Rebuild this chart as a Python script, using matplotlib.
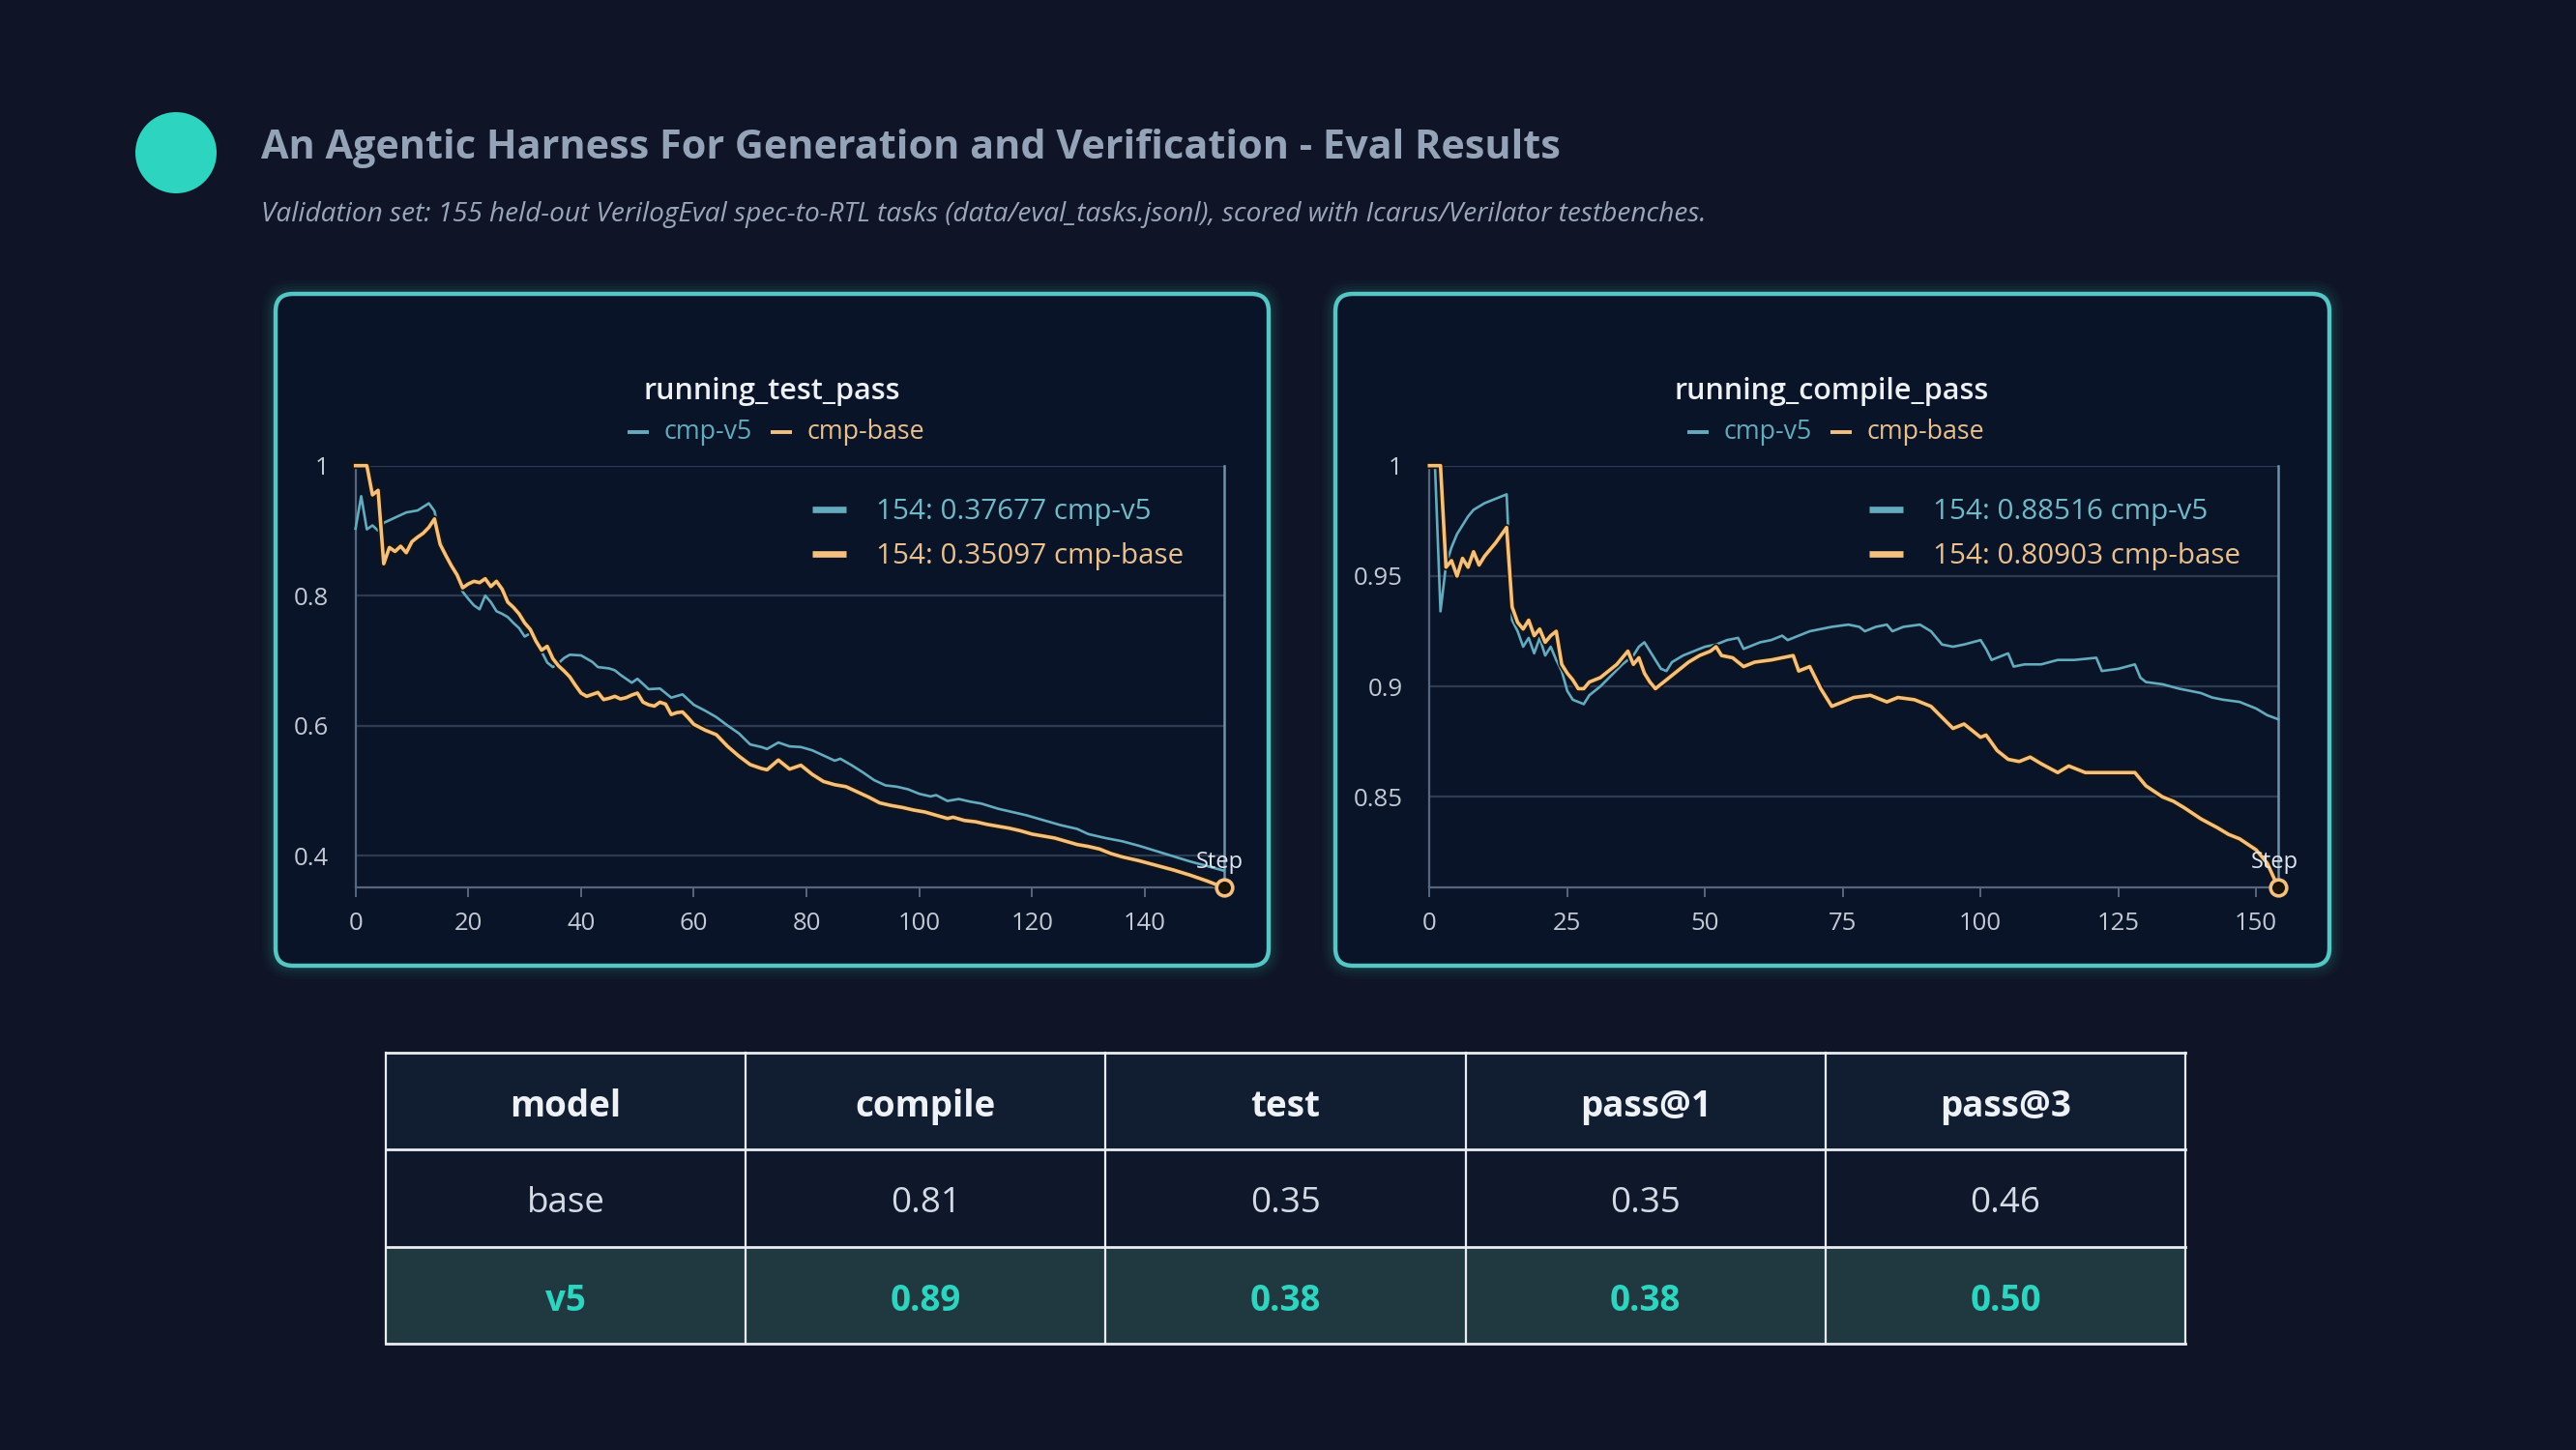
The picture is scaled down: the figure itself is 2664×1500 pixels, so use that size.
import matplotlib
matplotlib.use("Agg")
import matplotlib.pyplot as plt
from matplotlib.patches import FancyBboxPatch, Rectangle, Circle
import matplotlib.patheffects as pe

plt.rcParams['font.family'] = ['Open Sans', 'DejaVu Sans']

# ---------------- data ----------------
title = "An Agentic Harness For Generation and Verification - Eval Results"
subtitle = ("Validation set: 155 held-out VerilogEval spec-to-RTL tasks "
            "(data/eval_tasks.jsonl), scored with Icarus/Verilator testbenches.")

series_names = ["cmp-v5", "cmp-base"]

test_v5_steps = [0, 1, 2, 3, 4, 5, 7, 9, 11, 13, 14, 15, 16, 17, 18, 19, 20, 21, 22, 23,
                 24, 25, 26, 27, 28, 29, 30, 31, 32, 33, 34, 35, 36, 37, 38, 40, 42, 43, 45, 46,
                 47, 49, 50, 52, 54, 56, 58, 60, 62, 64, 66, 68, 70, 72, 73, 75, 77, 79, 81, 83,
                 85, 86, 88, 90, 92, 94, 96, 98, 100, 102, 103, 105, 107, 109, 111, 114, 117, 119, 121, 123,
                 125, 128, 130, 133, 136, 139, 142, 145, 148, 151, 154]
test_v5_vals = [0.903, 0.953, 0.902, 0.908, 0.900, 0.912, 0.920, 0.928, 0.931, 0.942, 0.930, 0.890, 0.862, 0.845, 0.828, 0.806, 0.795, 0.785, 0.779, 0.800,
                0.790, 0.776, 0.772, 0.767, 0.758, 0.750, 0.737, 0.742, 0.729, 0.714, 0.697, 0.690, 0.696, 0.704, 0.709, 0.708, 0.698, 0.690, 0.688, 0.685,
                0.678, 0.666, 0.672, 0.656, 0.657, 0.643, 0.648, 0.632, 0.623, 0.613, 0.600, 0.588, 0.571, 0.567, 0.564, 0.574, 0.568, 0.567, 0.562, 0.554,
                0.546, 0.549, 0.539, 0.528, 0.516, 0.508, 0.506, 0.502, 0.495, 0.491, 0.493, 0.484, 0.487, 0.483, 0.480, 0.472, 0.466, 0.462, 0.457, 0.452,
                0.447, 0.441, 0.433, 0.427, 0.422, 0.415, 0.407, 0.399, 0.391, 0.384, 0.37677]

test_base_steps = [0, 1, 2, 3, 4, 5, 6, 7, 8, 9, 10, 11, 12, 13, 14, 15, 16, 17, 18, 19,
                   20, 21, 22, 23, 24, 25, 26, 27, 28, 29, 30, 31, 32, 33, 34, 35, 36, 37, 38, 39,
                   40, 41, 42, 43, 44, 45, 46, 47, 48, 49, 50, 51, 52, 53, 54, 55, 56, 57, 58, 59,
                   60, 62, 64, 66, 68, 70, 72, 73, 75, 77, 79, 81, 83, 85, 87, 89, 91, 93, 95, 97,
                   99, 101, 103, 105, 106, 108, 110, 112, 114, 116, 118, 120, 122, 124, 126, 128, 130, 132, 134, 136,
                   139, 142, 145, 148, 151, 154]
test_base_vals = [1.0, 1.0, 1.0, 0.955, 0.962, 0.849, 0.874, 0.868, 0.876, 0.866, 0.883, 0.890, 0.896, 0.905, 0.918, 0.879, 0.862, 0.846, 0.832, 0.812,
                  0.818, 0.822, 0.820, 0.826, 0.814, 0.822, 0.810, 0.790, 0.782, 0.772, 0.758, 0.748, 0.730, 0.716, 0.722, 0.703, 0.692, 0.684, 0.675, 0.662,
                  0.650, 0.645, 0.648, 0.651, 0.640, 0.642, 0.645, 0.641, 0.643, 0.647, 0.650, 0.636, 0.632, 0.630, 0.636, 0.633, 0.617, 0.620, 0.621, 0.612,
                  0.602, 0.593, 0.586, 0.568, 0.553, 0.540, 0.534, 0.532, 0.547, 0.533, 0.539, 0.525, 0.514, 0.509, 0.506, 0.498, 0.490, 0.481, 0.477, 0.474,
                  0.470, 0.467, 0.462, 0.457, 0.459, 0.454, 0.452, 0.448, 0.445, 0.442, 0.438, 0.433, 0.430, 0.427, 0.422, 0.417, 0.414, 0.410, 0.403, 0.398,
                  0.392, 0.385, 0.378, 0.370, 0.361, 0.35097]

comp_v5_steps = [0, 1, 2, 3, 4, 5, 6, 7, 8, 10, 12, 14, 15, 16, 17, 18, 19, 20, 21, 22,
                 23, 24, 25, 26, 27, 28, 29, 31, 33, 35, 37, 38, 39, 40, 41, 42, 43, 44, 46, 48,
                 50, 52, 54, 56, 57, 58, 60, 62, 64, 65, 67, 69, 71, 73, 76, 78, 79, 81, 83, 84,
                 86, 89, 91, 93, 95, 97, 100, 101, 102, 103, 105, 106, 108, 111, 114, 117, 121, 122, 125, 128,
                 129, 130, 133, 136, 138, 140, 142, 144, 147, 150, 152, 154]
comp_v5_vals = [1.0, 1.0, 0.934, 0.955, 0.963, 0.969, 0.973, 0.977, 0.980, 0.983, 0.985, 0.987, 0.930, 0.925, 0.918, 0.922, 0.915, 0.922, 0.914, 0.918,
                0.912, 0.907, 0.898, 0.894, 0.893, 0.892, 0.896, 0.900, 0.905, 0.910, 0.914, 0.918, 0.920, 0.916, 0.912, 0.908, 0.907, 0.911, 0.914, 0.916,
                0.918, 0.919, 0.921, 0.922, 0.917, 0.918, 0.920, 0.921, 0.923, 0.921, 0.923, 0.925, 0.926, 0.927, 0.928, 0.927, 0.925, 0.927, 0.928, 0.925,
                0.927, 0.928, 0.925, 0.919, 0.918, 0.919, 0.921, 0.917, 0.912, 0.913, 0.915, 0.909, 0.910, 0.910, 0.912, 0.912, 0.913, 0.907, 0.908, 0.910,
                0.904, 0.902, 0.901, 0.899, 0.898, 0.897, 0.895, 0.894, 0.893, 0.890, 0.887, 0.88516]

comp_base_steps = [0, 1, 2, 3, 4, 5, 6, 7, 8, 9, 10, 12, 14, 15, 16, 17, 18, 19, 20, 21,
                   22, 23, 24, 25, 26, 27, 28, 29, 31, 33, 34, 36, 37, 38, 39, 40, 41, 43, 45, 47,
                   49, 51, 52, 53, 55, 57, 59, 62, 64, 66, 67, 69, 71, 73, 75, 77, 80, 83, 85, 88,
                   91, 93, 95, 97, 100, 101, 103, 105, 107, 109, 111, 114, 116, 119, 122, 125, 128, 130, 133, 135,
                   137, 140, 143, 145, 147, 150, 152, 154]
comp_base_vals = [1.0, 1.0, 1.0, 0.954, 0.957, 0.950, 0.958, 0.954, 0.961, 0.955, 0.959, 0.965, 0.972, 0.936, 0.929, 0.926, 0.930, 0.923, 0.926, 0.920,
                  0.923, 0.925, 0.910, 0.906, 0.903, 0.899, 0.899, 0.902, 0.904, 0.908, 0.910, 0.916, 0.910, 0.913, 0.906, 0.902, 0.899, 0.903, 0.907, 0.911,
                  0.914, 0.916, 0.918, 0.914, 0.913, 0.909, 0.911, 0.912, 0.913, 0.914, 0.907, 0.909, 0.899, 0.891, 0.893, 0.895, 0.896, 0.893, 0.895, 0.894,
                  0.891, 0.886, 0.881, 0.883, 0.877, 0.878, 0.871, 0.867, 0.866, 0.868, 0.865, 0.861, 0.864, 0.861, 0.861, 0.861, 0.861, 0.855, 0.850, 0.848,
                  0.845, 0.840, 0.836, 0.833, 0.831, 0.826, 0.820, 0.80903]

test_yticks = [0.4, 0.6, 0.8, 1.0]
test_yticklabels = ["0.4", "0.6", "0.8", "1"]
test_xticks = [0, 20, 40, 60, 80, 100, 120, 140]
comp_yticks = [0.85, 0.9, 0.95, 1.0]
comp_yticklabels = ["0.85", "0.9", "0.95", "1"]
comp_xticks = [0, 25, 50, 75, 100, 125, 150]

table_columns = ["model", "compile", "test", "pass@1", "pass@3"]
table_models = ["base", "v5"]
table_compile = [0.81, 0.89]
table_test = [0.35, 0.38]
table_pass1 = [0.35, 0.38]
table_pass3 = [0.46, 0.50]

# ---------------- style ----------------
W, H = 2664, 1500
BG = "#0f1526"
PANEL_BG = "#0a1429"
BORDER = "#56c6c4"
GLOW = "#2aa9a4"
V5_COL = "#64abbe"
BASE_COL = "#f4c07f"
V5_TXT = "#72b9c8"
BASE_TXT = "#e9c08e"
GRID = "#2c3a52"
AXIS = "#55667e"
TICK_TXT = "#c3cad3"
TITLE_COL = "#94a3b8"
TEAL = "#2dd4bf"

fig = plt.figure(figsize=(W / 100, H / 100), dpi=100, facecolor=BG)
ov = fig.add_axes([0, 0, 1, 1], zorder=0)
ov.set_xlim(0, W)
ov.set_ylim(H, 0)
ov.axis("off")


def px_rect(x0, y0, x1, y1):
    return [x0 / W, 1 - y1 / H, (x1 - x0) / W, (y1 - y0) / H]


# header
ov.add_patch(Circle((182, 158), 42, color=TEAL, lw=0))
ov.text(270, 153, title, fontsize=29.8, fontweight="bold", color=TITLE_COL,
        ha="left", va="center")
ov.text(270, 222, subtitle, fontsize=20.2, style="italic", color="#9aa7ba",
        ha="left", va="center")

# chart panels
panels = [(285, 304, 1312, 999), (1381, 304, 2409, 999)]
for (x0, y0, x1, y1) in panels:
    for i, a in enumerate([0.03, 0.04, 0.05, 0.07, 0.09]):
        g = 14 - i * 3
        ov.add_patch(FancyBboxPatch((x0 - g, y0 - g), (x1 - x0) + 2 * g, (y1 - y0) + 2 * g,
                                    boxstyle="round,pad=0,rounding_size=%d" % (18 + g),
                                    fc=GLOW, ec="none", alpha=a))
    ov.add_patch(FancyBboxPatch((x0, y0), x1 - x0, y1 - y0,
                                boxstyle="round,pad=0,rounding_size=18",
                                fc=PANEL_BG, ec=BORDER, lw=3.2))

charts = [
    dict(name="running_test_pass", cx=798, rect=(367.7, 481.7, 1265.5, 918.0),
         ylim=(0.351, 1.0), yticks=test_yticks, ylabels=test_yticklabels, xticks=test_xticks,
         v5=(test_v5_steps, test_v5_vals), base=(test_base_steps, test_base_vals), off=0),
    dict(name="running_compile_pass", cx=1894, rect=(1478.3, 481.7, 2356.0, 918.0),
         ylim=(0.809, 1.0), yticks=comp_yticks, ylabels=comp_yticklabels, xticks=comp_xticks,
         v5=(comp_v5_steps, comp_v5_vals), base=(comp_base_steps, comp_base_vals), off=1),
]

for ch in charts:
    x0, y0, x1, y1 = ch["rect"]
    ax = fig.add_axes(px_rect(x0, y0, x1, y1), zorder=2)
    ax.patch.set_alpha(0)
    ax.set_xlim(0, 154)
    ax.set_ylim(*ch["ylim"])
    ax.spines["top"].set_visible(False)
    for s in ["left", "bottom"]:
        ax.spines[s].set_color(AXIS)
        ax.spines[s].set_linewidth(1.6)
    ax.spines["right"].set_color("#6f93a8")
    ax.spines["right"].set_linewidth(1.8)
    ax.set_yticks(ch["yticks"])
    ax.set_yticklabels(ch["ylabels"])
    ax.set_xticks(ch["xticks"])
    ax.tick_params(axis="y", length=0, pad=20, labelsize=18.5, labelcolor=TICK_TXT)
    ax.tick_params(axis="x", length=7, width=1.4, color=AXIS, pad=11, labelsize=18.5,
                   labelcolor=TICK_TXT)
    ax.grid(axis="y", color=GRID, lw=1.6)
    ax.set_axisbelow(True)
    sx, sy = ch["v5"]
    ax.plot(sx, sy, color=V5_COL, lw=1.9, solid_joinstyle="round", clip_on=False, zorder=3)
    bx, by = ch["base"]
    ax.plot(bx, by, color=BASE_COL, lw=2.6, solid_joinstyle="round", clip_on=False, zorder=4,
            path_effects=[pe.Stroke(linewidth=5.0, foreground="#1b1408"), pe.Normal()])
    ax.plot([bx[-1]], [by[-1]], marker="o", ms=12, mfc="#1a1206", mec=BASE_COL, mew=2.6,
            clip_on=False, zorder=5)
    ax.annotate("Step", (bx[-1], by[-1]), xytext=(-4, 26), textcoords="offset pixels",
                ha="center", va="center", fontsize=17, color="#dfe6ee", zorder=6)

    dx = 1096 if ch["off"] else 0
    # chart title
    ov.text(ch["cx"], 405, ch["name"], fontsize=22, fontweight="semibold",
            color="#eef1f4", ha="center", va="center")
    # top legend
    ov.plot([649 + dx, 671 + dx], [447, 447], color=V5_COL, lw=2.8, solid_capstyle="butt")
    ov.text(686 + dx, 447, series_names[0], fontsize=19.3, color=V5_COL, ha="left", va="center")
    ov.plot([797 + dx, 819 + dx], [447, 447], color=BASE_COL, lw=2.8, solid_capstyle="butt")
    ov.text(834 + dx, 447, series_names[1], fontsize=19.3, color=BASE_TXT, ha="left", va="center")
    # inner value legend
    ddx = 1093 if ch["off"] else 0
    ov.plot([840 + ddx, 875 + ddx], [527, 527], color=V5_COL, lw=4.8, solid_capstyle="butt")
    ov.text(906 + ddx, 529, "154: %.5f %s" % (sy[-1], series_names[0]), fontsize=21.3,
            color=V5_TXT, ha="left", va="center")
    ov.plot([840 + ddx, 875 + ddx], [573, 573], color=BASE_COL, lw=4.8, solid_capstyle="butt")
    ov.text(906 + ddx, 575, "154: %.5f %s" % (by[-1], series_names[1]), fontsize=21.3,
            color=BASE_TXT, ha="left", va="center")

# ---------------- table ----------------
tx0, tx1 = 399, 2260
row_edges = [1089, 1189, 1290, 1390]
ncol = len(table_columns)
cw = (tx1 - tx0) / ncol
row_bg = ["#111d31", "#0f172a", "#203941"]
for r in range(3):
    ov.add_patch(Rectangle((tx0, row_edges[r]), tx1 - tx0, row_edges[r + 1] - row_edges[r],
                           fc=row_bg[r], ec="none", zorder=1))

rows = [table_columns]
for i, m in enumerate(table_models):
    rows.append([m] + ["%.2f" % v for v in (table_compile[i], table_test[i],
                                          table_pass1[i], table_pass3[i])])
for r, row in enumerate(rows):
    yc = (row_edges[r] + row_edges[r + 1]) / 2 + 6
    for c, txt in enumerate(row):
        xc = tx0 + cw * (c + 0.5)
        if r == 0:
            ov.text(xc, yc, txt, fontsize=26.5, fontweight="bold", color="#eef2f7",
                    ha="center", va="center", zorder=3)
        elif table_models[r - 1] == "v5":
            ov.text(xc, yc, txt, fontsize=26.5, fontweight="bold", color=TEAL,
                    ha="center", va="center", zorder=3)
        else:
            ov.text(xc, yc, txt, fontsize=26.5, color="#d5dbe4",
                    ha="center", va="center", zorder=3)

for y in row_edges:
    ov.plot([tx0, tx1], [y, y], color="#e9edf2", lw=2.0, zorder=2, solid_capstyle="projecting")
for c in range(ncol + 1):
    x = tx0 + cw * c
    ov.plot([x, x], [row_edges[0], row_edges[-1]], color="#e9edf2", lw=1.6, zorder=2)

fig.savefig("out.png", dpi=100, facecolor=BG)
